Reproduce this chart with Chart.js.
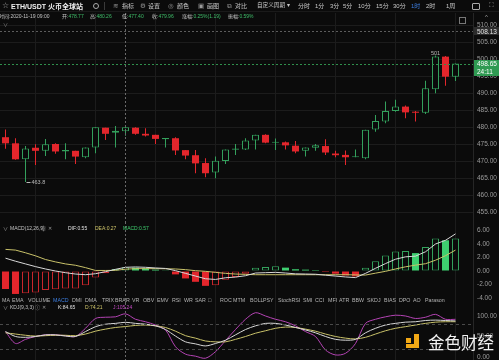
<!DOCTYPE html>
<html>
<head>
<meta charset="utf-8">
<title>ETH/USDT 火币全球站 1时</title>
<script src="https://cdn.jsdelivr.net/npm/chart.js@4.4.1/dist/chart.umd.min.js"></script>
<style>
  html, body { margin: 0; padding: 0; background: #0b0b0b; }
  #page { position: relative; width: 499px; height: 360px; overflow: hidden; background: #0b0b0b;
          font-family: "Liberation Sans", "Noto Sans CJK SC", sans-serif; color: #bdbdbd; }
  #page canvas { position: absolute; left: 0; }
  .t { position: absolute; white-space: nowrap; line-height: 1; }
  .bar { font-size: 6px; top: 3px; color: #c9c9c9; }
  .ico { font-size: 6.5px; top: 2.5px; color: #9a9a9a; font-family: "DejaVu Sans", sans-serif; }
  .info { font-size: 5px; top: 13.5px; color: #c4c4c4; }
  .info b { font-weight: normal; color: #3fbf6a; }
  .tab { font-size: 5.3px; top: 297.6px; color: #b4b4b4; }
  .pl { font-size: 5px; color: #c4c4c4; }
  .logo { position: absolute; background: #f2a916; }
</style>
</head>
<body>
<div id="page">
  <canvas id="main_chart" width="499" height="209" style="top:13px"></canvas>
  <canvas id="macd_chart" width="499" height="81" style="top:222px"></canvas>
  <canvas id="kdj_chart" width="499" height="57" style="top:303px"></canvas>

  <!-- toolbar -->
  <div style="position:absolute;left:0;top:11px;width:499px;height:1px;background:#1a1a1a"></div>
  <span class="t" style="left:2px;top:1.5px;font-size:8px;color:#aaa;font-family:'DejaVu Sans'">☆</span>
  <span class="t" style="left:11px;top:2.5px;font-size:7px;color:#f0f0f0;font-weight:bold">ETH/USDT 火币全球站</span>
  <div style="position:absolute;left:93px;top:2.5px;width:4px;height:4px;border:1px solid #aaa;border-radius:50%"></div>
  <div style="position:absolute;left:104px;top:2px;width:1px;height:8px;background:#3a3a3a"></div>
  <span class="t ico" style="left:113px">≋</span><span class="t bar" style="left:122px">指标</span>
  <span class="t ico" style="left:140px">⚙</span><span class="t bar" style="left:148px">设置</span>
  <span class="t ico" style="left:168px">◎</span><span class="t bar" style="left:177px">颜色</span>
  <span class="t ico" style="left:198px">▣</span><span class="t bar" style="left:207px">画图</span>
  <span class="t ico" style="left:227px">⧉</span><span class="t bar" style="left:235px">对比</span>
  <span class="t bar" style="left:257px;font-size:5.6px;top:3.2px">自定义周期 ▾</span>
  <span class="t bar" style="left:298px">分时</span>
  <span class="t bar" style="left:315px">1分</span>
  <span class="t bar" style="left:330px">3分</span>
  <span class="t bar" style="left:343px">5分</span>
  <span class="t bar" style="left:358px">10分</span>
  <span class="t bar" style="left:376px">15分</span>
  <span class="t bar" style="left:393px">30分</span>
  <span class="t bar" style="left:411px;color:#3d7ee0">1时</span>
  <span class="t bar" style="left:426px">2时</span>
  <span class="t bar" style="left:446px">1周</span>
  <div style="position:absolute;left:472px;top:3px;width:6px;height:5px;border:1px solid #aaa;border-radius:1px"></div>
  <span class="t ico" style="left:489px;top:2px">⛶</span>

  <!-- info line -->
  <span class="t info" style="left:-1px">时间:2020-11-19 09:00</span>
  <span class="t info" style="left:62px">开:<b>478.77</b></span>
  <span class="t info" style="left:90px">高:<b>480.26</b></span>
  <span class="t info" style="left:122px">低:<b>477.40</b></span>
  <span class="t info" style="left:152px">收:<b>479.96</b></span>
  <span class="t info" style="left:182px">涨幅:<b>0.25%(1.19)</b></span>
  <span class="t info" style="left:228px">振幅:<b>0.59%</b></span>
  <span class="t" style="left:3px;top:22px;font-size:5px;color:#888">∨</span>
  <div style="position:absolute;left:459px;top:17px;width:5px;height:5px;border:1px solid #777"></div>
  <span class="t" style="left:485px;top:13.5px;font-size:6px;color:#aaa">^</span>

  <!-- MACD label -->
  <span class="t pl" style="left:3px;top:225.8px;color:#999">∨</span>
  <span class="t pl" style="left:10px;top:225.8px">MACD(12,26,9)</span>
  <span class="t pl" style="left:41px;top:225.8px;color:#999">ⓘ</span>
  <span class="t pl" style="left:48px;top:225.8px;color:#999">✕</span>
  <span class="t pl" style="left:68px;top:225.8px;color:#e0e0e0">DIF:0.55</span>
  <span class="t pl" style="left:95px;top:225.8px;color:#cfc56a">DEA:0.27</span>
  <span class="t pl" style="left:123px;top:225.8px;color:#3fcf6f">MACD:0.57</span>

  <!-- KDJ label -->
  <span class="t pl" style="left:3px;top:304.5px;color:#999">∨</span>
  <span class="t pl" style="left:10px;top:304.5px">KDJ(9,3,3)</span>
  <span class="t pl" style="left:35px;top:304.5px;color:#999">ⓘ</span>
  <span class="t pl" style="left:42px;top:304.5px;color:#999">✕</span>
  <span class="t pl" style="left:58px;top:304.5px;color:#e0e0e0">K:84.65</span>
  <span class="t pl" style="left:85px;top:304.5px;color:#cfc56a">D:74.21</span>
  <span class="t pl" style="left:113px;top:304.5px;color:#c54ac5">J:105.24</span>

  <div id="tabs"></div>

  <!-- watermark -->
  <div class="logo" style="left:406px;top:338px;width:5px;height:5px"></div>
  <div class="logo" style="left:414px;top:334px;width:5px;height:14px"></div>
  <div class="logo" style="left:406px;top:344px;width:13px;height:4px"></div>
  <span class="t" style="left:428px;top:333.5px;font-size:16.5px;color:#f2f2f2;font-family:'Noto Sans CJK SC'">金色财经</span>
</div>

<script>
// ------------------ Chart Data (1 hour candles, ETH/USDT) ------------------
const times = [
  "11-18 21:00", "11-18 22:00", "11-18 23:00", "11-19 00:00", "11-19 01:00", "11-19 02:00", "11-19 03:00", "11-19 04:00",
  "11-19 05:00", "11-19 06:00", "11-19 07:00", "11-19 08:00", "11-19 09:00", "11-19 10:00", "11-19 11:00", "11-19 12:00",
  "11-19 13:00", "11-19 14:00", "11-19 15:00", "11-19 16:00", "11-19 17:00", "11-19 18:00", "11-19 19:00", "11-19 20:00",
  "11-19 21:00", "11-19 22:00", "11-19 23:00", "11-20 00:00", "11-20 01:00", "11-20 02:00", "11-20 03:00", "11-20 04:00",
  "11-20 05:00", "11-20 06:00", "11-20 07:00", "11-20 08:00", "11-20 09:00", "11-20 10:00", "11-20 11:00", "11-20 12:00",
  "11-20 13:00", "11-20 14:00", "11-20 15:00", "11-20 16:00", "11-20 17:00", "11-20 18:00"
];
const open = [
  477.0, 475.2, 470.5, 473.9, 473.0, 475.0, 472.8, 473.0, 471.1, 474.0,
  479.8, 478.3, 478.77, 479.8, 478.0, 477.7, 476.4, 476.7, 473.2, 471.7,
  469.4, 466.6, 470.0, 473.3, 473.4, 476.0, 477.7, 475.4, 475.5, 474.5,
  473.0, 473.9, 474.4, 472.2, 471.8, 471.1, 470.8, 479.3, 481.6, 484.7,
  486.0, 484.5, 484.2, 491.1, 500.7, 494.8
];
const high = [
  479.3, 476.7, 474.4, 474.9, 476.5, 475.2, 475.2, 473.0, 474.0, 479.9,
  479.8, 480.3, 480.26, 479.9, 479.6, 477.7, 476.8, 477.0, 473.2, 473.2,
  470.8, 471.3, 473.4, 475.0, 476.7, 477.7, 477.9, 476.6, 475.7, 475.9,
  474.0, 475.0, 476.4, 473.0, 473.1, 473.4, 479.2, 483.5, 487.5, 488.0,
  486.3, 484.7, 493.6, 501.0, 500.9, 498.65
];
const low = [
  473.6, 470.4, 463.8, 468.8, 471.5, 472.1, 470.5, 469.1, 470.8, 472.3,
  476.2, 474.0, 477.40, 477.7, 477.2, 475.0, 474.0, 471.8, 470.5, 466.4,
  465.2, 464.9, 469.1, 471.8, 473.2, 473.4, 475.2, 473.2, 473.4, 472.3,
  471.3, 473.0, 471.8, 471.1, 468.8, 471.1, 470.5, 478.6, 481.1, 484.5,
  482.6, 481.6, 483.8, 489.9, 492.1, 493.5
];
const close = [
  475.2, 470.5, 473.7, 473.0, 474.9, 472.8, 473.2, 471.3, 474.0, 479.9,
  478.0, 478.9, 479.96, 478.0, 477.5, 476.5, 476.8, 473.1, 471.6, 469.3,
  466.4, 470.1, 473.4, 473.7, 476.0, 477.7, 475.4, 475.6, 474.6, 472.8,
  474.0, 474.6, 472.5, 471.7, 471.1, 471.4, 479.2, 481.8, 484.7, 486.0,
  484.3, 484.2, 491.4, 500.7, 494.8, 498.65
];

// MACD(12,26,9)
const macd_hist = [
  -2.67, -3.4, -3.3, -3.2, -2.8, -2.7, -2.6, -2.6, -2.1, -0.95,
  -0.35, 0.3, 0.57, 0.5, 0.4, 0.2, 0.1, -0.5, -1.1, -1.6,
  -2.2, -2.1, -1.3, -0.9, -0.4, 0.5, 0.6, 0.7, 0.5, 0.26,
  0.2, 0.14, -0.14, -0.4, -0.66, -0.8, 0.5, 1.45, 2.3, 2.9,
  2.95, 2.65, 3.55, 4.8, 4.55, 4.8
];
const macd_dif = [
  1.9, 1.45, 1.05, 0.65, 0.3, 0.0, -0.25, -0.45, -0.55, -0.4,
  -0.1, 0.25, 0.55, 0.6, 0.55, 0.45, 0.38, 0.05, -0.35, -0.75,
  -1.15, -1.25, -1.0, -0.9, -0.7, -0.3, -0.25, -0.2, -0.3, -0.42,
  -0.45, -0.48, -0.62, -0.75, -0.88, -0.98, -0.35, 0.4, 1.1, 1.75,
  2.1, 2.2, 2.85, 4.0, 4.55, 5.5
];
const macd_dea = [
  3.2, 3.1, 2.7, 2.25, 1.7, 1.35, 1.05, 0.85, 0.5, 0.08,
  0.08, 0.1, 0.27, 0.35, 0.35, 0.35, 0.33, 0.3, 0.2, 0.05,
  -0.05, -0.2, -0.35, -0.45, -0.5, -0.55, -0.55, -0.55, -0.55, -0.55,
  -0.55, -0.55, -0.55, -0.55, -0.55, -0.58, -0.6, -0.32, -0.05, 0.3,
  0.62, 0.87, 1.08, 1.6, 2.27, 3.1
];

// KDJ(9,3,3)
const kdj_k = [
  62, 50, 48, 50, 54, 54, 51, 50, 62, 74,
  80, 82, 84.65, 82, 80, 76, 67, 51, 37, 32,
  27, 33, 41, 54, 67, 76, 82, 82, 78, 72,
  66, 59, 50, 43, 41, 43, 59, 70, 78, 82,
  85, 86, 89, 90, 89, 88
];
const kdj_d = [
  59, 56, 53, 51, 52, 53, 53, 52, 56, 63,
  68, 72, 74.21, 77, 78, 76, 72, 63, 52, 46,
  39, 37, 37, 43, 50, 58, 64, 70, 73, 72,
  68, 63, 56, 50, 46, 44, 48, 56, 64, 70,
  74, 78, 82, 85, 86, 86
];
const kdj_j = [
  62, 33, 43, 50, 54, 54, 52, 50, 70, 94,
  97, 98, 105.24, 92, 86, 78, 66, 25, 7, 2,
  -3, 13, 40, 67, 92, 108, 100, 92, 86, 76,
  62, 50, 17, 5, 9, 33, 82, 92, 98, 102,
  100, 94, 97, 104, 92, 92
];

// tick labels and reference values
const price_ticks = [455, 460, 465, 470, 475, 480, 485, 490, 495, 500, 505, 510];
const macd_ticks = [-4, -2, 0, 2, 4, 6];
const kdj_ticks = [0, 50, 100];
const kdj_levels = [20, 80];
const cross_index = 12;      // candle under the cursor (2020-11-19 09:00)
const cross_price = 508.13;  // price under the cursor
const countdown = "24:11";   // time left in the current candle


// ------------------ Colours ------------------
const BG = "#0b0b0b";
const GRID = "#1c1c1c";
const AXIS_TEXT = "#9c9c9c";
const UP = "#33a05c";
const UP_FILL = "#3ecf70";
const DOWN = "#e3262c";
const DIF_COLOR = "#d8d8d8";
const DEA_COLOR = "#c9c26a";
const J_COLOR = "#b544b5";
const FONT = "Liberation Sans";

Chart.defaults.font.family = FONT;
Chart.defaults.font.size = 6.5;
Chart.defaults.color = AXIS_TEXT;
Chart.defaults.animation = false;


// ------------------ Shared Axis Helpers ------------------
const X_MIN = -0.55, X_MAX = 46.75;

// vertical grid every 6 hours (00:00, 06:00, 12:00, 18:00)
const grid_index = [];
times.forEach((t, i) => {
  if (parseInt(t.slice(6, 8), 10) % 6 === 0) grid_index.push(i);
});

function x_axis() {
  return {
    type: "linear", min: X_MIN, max: X_MAX, offset: false,
    grid: { color: GRID, drawTicks: false, offset: false },
    border: { display: false },
    ticks: { display: false },
    afterBuildTicks: (axis) => { axis.ticks = grid_index.map((v) => ({ value: v })); },
    afterFit: (axis) => { axis.height = 0; axis.paddingLeft = 0; axis.paddingRight = 0; }
  };
}

function y_axis(min, max, tick_values, grid_color) {
  return {
    position: "right", min: min, max: max, beginAtZero: false,
    grid: { color: grid_color || "transparent", drawTicks: false },
    border: { display: true, color: "#262626" },
    ticks: { padding: 4, color: AXIS_TEXT, callback: (v) => Number(v).toFixed(2) },
    afterBuildTicks: (axis) => { axis.ticks = tick_values.map((v) => ({ value: v })); },
    afterFit: (axis) => { axis.width = 26; axis.paddingTop = 0; axis.paddingBottom = 0; }
  };
}


// ------------------ Plugin For Crosshair, Price Lines And Labels ------------------
function make_overlay(cfg) {
  return {
    id: "overlay",
    afterDatasetsDraw(chart) {
      const ctx = chart.ctx;
      const area = chart.chartArea;
      const x_scale = chart.scales.x;
      const y_scale = chart.scales.y;
      ctx.save();
      ctx.lineWidth = 1;
      (cfg.levels || []).forEach((lv) => {
        const y = Math.round(y_scale.getPixelForValue(lv.value)) + 0.5;
        ctx.strokeStyle = lv.color;
        ctx.setLineDash(lv.dash);
        ctx.beginPath();
        ctx.moveTo(area.left, y);
        ctx.lineTo(area.right, y);
        ctx.stroke();
      });
      if (cfg.cross_index !== undefined) {
        const x = Math.floor(x_scale.getPixelForValue(cfg.cross_index)) + 0.5;
        ctx.strokeStyle = "#6a6a6a";
        ctx.setLineDash([2, 2]);
        ctx.beginPath();
        ctx.moveTo(x, area.top);
        ctx.lineTo(x, area.bottom);
        ctx.stroke();
      }
      if (cfg.extremes) {
        // highest high and lowest low of the visible candles
        let hi = 0, lo = 0;
        for (let i = 1; i < high.length; i++) {
          if (high[i] > high[hi]) hi = i;
          if (low[i] < low[lo]) lo = i;
        }
        ctx.setLineDash([]);
        ctx.font = "5.5px " + FONT;
        ctx.fillStyle = "#b8b8b8";
        ctx.textAlign = "center";
        ctx.textBaseline = "bottom";
        ctx.fillText(String(high[hi]), x_scale.getPixelForValue(hi), y_scale.getPixelForValue(high[hi]) + 0.5);
        const lx = x_scale.getPixelForValue(lo);
        const ly = Math.round(y_scale.getPixelForValue(low[lo])) + 0.5;
        ctx.strokeStyle = "#b8b8b8";
        ctx.beginPath();
        ctx.moveTo(lx + 1, ly);
        ctx.lineTo(lx + 5, ly);
        ctx.stroke();
        ctx.textAlign = "left";
        ctx.textBaseline = "middle";
        ctx.fillText(String(low[lo]), lx + 6, ly);
      }
      ctx.restore();
    },
    afterDraw(chart) {
      const ctx = chart.ctx;
      const area = chart.chartArea;
      const y_scale = chart.scales.y;
      ctx.save();
      (cfg.boxes || []).forEach((b) => {
        const y = y_scale.getPixelForValue(b.value) + (b.shift || 0);
        ctx.fillStyle = b.bg;
        ctx.fillRect(area.right + 1, Math.round(y - 4), 25, 8);
        ctx.fillStyle = b.color;
        ctx.font = "6.5px " + FONT;
        ctx.textAlign = "left";
        ctx.textBaseline = "middle";
        ctx.fillText(b.text, area.right + 4, y + 0.5);
      });
      ctx.restore();
    }
  };
}

const base_plugins = { legend: { display: false }, tooltip: { enabled: false } };


// ------------------ Main Candle Chart ------------------
function is_up(i) {
  return close[i] >= open[i];
}

const last_price = close[close.length - 1];
const wick_points = times.map((t, i) => ({ x: i, y: [low[i], high[i]] }));
const body_points = times.map((t, i) => ({ x: i, y: [open[i], close[i]] }));

const main_chart = new Chart(document.getElementById("main_chart"), {
  type: "bar",
  data: {
    datasets: [
      {
        label: "wick", data: wick_points, order: 2, grouped: false, maxBarThickness: 1,
        backgroundColor: (ctx) => (is_up(ctx.dataIndex) ? UP : DOWN)
      },
      {
        label: "body", data: body_points, order: 1, grouped: false, maxBarThickness: 7, minBarLength: 1,
        borderSkipped: false,
        backgroundColor: (ctx) => (is_up(ctx.dataIndex) ? BG : DOWN),
        borderColor: UP,
        borderWidth: (ctx) => (is_up(ctx.dataIndex) ? 1 : 0)
      }
    ]
  },
  plugins: [make_overlay({
    cross_index: cross_index,
    extremes: true,
    levels: [
      { value: cross_price, color: "#5c5c5c", dash: [2, 2] },
      { value: last_price, color: "#2f8f4c", dash: [2, 2] }
    ],
    boxes: [
      { value: cross_price, text: cross_price.toFixed(2), bg: "#2c2c2c", color: "#e4e4e4" },
      { value: last_price, text: last_price.toFixed(2), bg: "#2f9a52", color: "#ffffff" },
      { value: last_price, shift: 8.5, text: countdown, bg: "#2f9a52", color: "#ffffff" }
    ]
  })],
  options: {
    responsive: false,
    events: [],
    layout: { padding: 0 },
    scales: { x: x_axis(), y: y_axis(452.06, 513.53, price_ticks, GRID) },
    plugins: base_plugins
  }
});


// ------------------ MACD Chart ------------------
function hist_hollow(i) {
  return i > 0 && macd_hist[i] >= macd_hist[i - 1];
}

const macd_chart = new Chart(document.getElementById("macd_chart"), {
  type: "bar",
  data: {
    datasets: [
      {
        type: "line", label: "DIF", order: 1, data: times.map((t, i) => ({ x: i, y: macd_dif[i] })),
        borderColor: DIF_COLOR, borderWidth: 1, pointRadius: 0, tension: 0
      },
      {
        type: "line", label: "DEA", order: 1, data: times.map((t, i) => ({ x: i, y: macd_dea[i] })),
        borderColor: DEA_COLOR, borderWidth: 1, pointRadius: 0, tension: 0
      },
      {
        label: "MACD", order: 2, grouped: false, maxBarThickness: 7, borderSkipped: false,
        data: times.map((t, i) => ({ x: i, y: macd_hist[i] })),
        backgroundColor: (ctx) => {
          const i = ctx.dataIndex;
          if (hist_hollow(i)) return BG;
          return macd_hist[i] >= 0 ? UP_FILL : DOWN;
        },
        borderColor: (ctx) => (macd_hist[ctx.dataIndex] >= 0 ? UP : "#c9262c"),
        borderWidth: (ctx) => (hist_hollow(ctx.dataIndex) ? 1 : 0)
      }
    ]
  },
  plugins: [make_overlay({ cross_index: cross_index })],
  options: {
    responsive: false,
    events: [],
    layout: { padding: 0 },
    scales: { x: x_axis(), y: y_axis(-4.74, 7.26, macd_ticks) },
    plugins: base_plugins
  }
});


// ------------------ KDJ Chart ------------------
const kdj_chart = new Chart(document.getElementById("kdj_chart"), {
  type: "line",
  data: {
    datasets: [
      { label: "K", data: times.map((t, i) => ({ x: i, y: kdj_k[i] })), borderColor: DIF_COLOR },
      { label: "D", data: times.map((t, i) => ({ x: i, y: kdj_d[i] })), borderColor: DEA_COLOR },
      { label: "J", data: times.map((t, i) => ({ x: i, y: kdj_j[i] })), borderColor: J_COLOR }
    ]
  },
  plugins: [make_overlay({
    cross_index: cross_index,
    levels: kdj_levels.map((v) => ({ value: v, color: "#4a4a4a", dash: [3, 3] }))
  })],
  options: {
    responsive: false,
    events: [],
    layout: { padding: 0 },
    elements: { line: { borderWidth: 1, tension: 0.3 }, point: { radius: 0 } },
    scales: { x: x_axis(), y: y_axis(-7.32, 131.7, kdj_ticks) },
    plugins: base_plugins
  }
});


// ------------------ Indicator Tabs ------------------
const tab_items = [
  ["MA", 2], ["EMA", 12], ["VOLUME", 28], ["MACD", 53], ["DMI", 72], ["DMA", 85], ["TRIX", 102],
  ["BRAR", 115], ["VR", 132], ["OBV", 143], ["EMV", 157], ["RSI", 172], ["WR", 184], ["SAR", 195],
  ["□", 208], ["ROC", 220], ["MTM", 233], ["BOLL", 250], ["PSY", 263], ["StochRSI", 278], ["SMI", 303],
  ["CCI", 315], ["MFI", 328], ["ATR", 339], ["BBW", 352], ["SKDJ", 367], ["BIAS", 384], ["DPO", 399],
  ["AO", 413], ["Parason", 425]
];
const tabs = document.getElementById("tabs");
tab_items.forEach(([name, left]) => {
  const span = document.createElement("span");
  span.className = "t tab";
  span.style.left = left + "px";
  span.textContent = name;
  if (name === "MACD") span.style.color = "#3d7ee0";
  tabs.appendChild(span);
});
</script>
</body>
</html>
